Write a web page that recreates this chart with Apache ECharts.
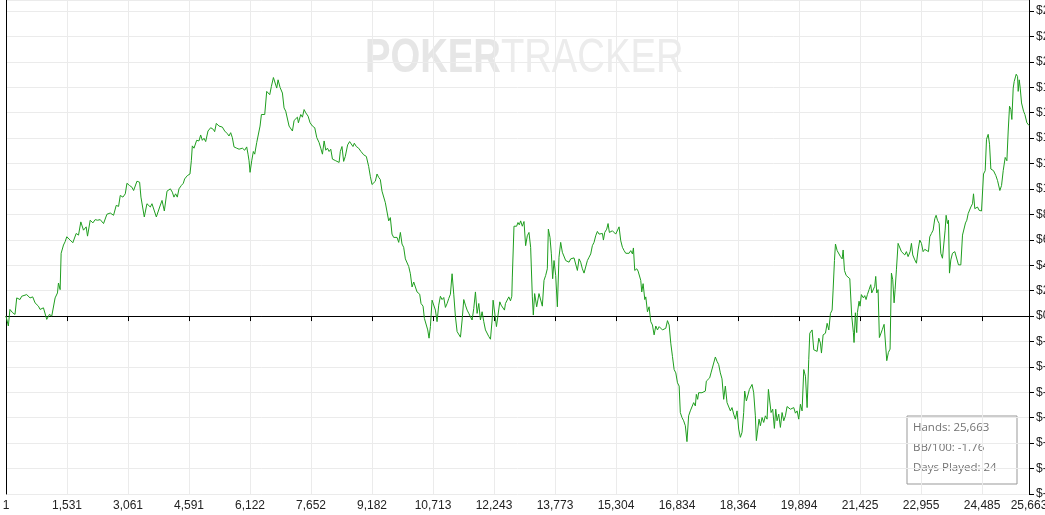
<!DOCTYPE html>
<html>
<head>
<meta charset="utf-8">
<script src="https://cdn.jsdelivr.net/npm/echarts@6/dist/echarts.min.js"></script>
<style>
html,body{margin:0;padding:0;background:#fff;}
#chart{width:1045px;height:515px;}
</style>
</head>
<body>
<div id="chart"></div>
<script>
// x tick labels (hands)
var xTickLabels = ['1','1,531','3,061','4,591','6,122','7,652','9,182','10,713','12,243','13,773','15,304','16,834','18,364','19,894','21,425','22,955','24,485','25,663'];
var handsTotal = 25663;
var handsStep = 1530.3;
var yMin = -140, yMax = 248.7, yStep = 20;

// statistics box text
var statLines = ['Hands: 25,663', 'BB/100: -1.76', 'Days Played: 24'];

// cumulative winnings: [hand number, dollars]
var winnings = [
[1,0],[60,-7.8],[100,5.2],[168,2.6],[227,1.3],[270,14.3],[352,13],[395,15.6],[520,16.9],[604,14.3],[671,15.1],[730,10.4],[814,7.8],[856,5.2],[940,6.5],[981,7.8],[1023,-2.6],[1090,1.3],[1149,0],[1191,1.3],[1233,14.3],[1292,18.2],[1317,26],[1359,20.8],[1384,49.4],[1443,55.9],[1484,58.5],[1526,62.4],[1610,59.8],[1677,57.7],[1761,65],[1820,63.7],[1878,74.1],[1945,67.6],[2012,70.2],[2046,62.9],[2113,75.4],[2180,73.3],[2238,75.9],[2297,75.4],[2364,75.9],[2448,72.8],[2532,80.1],[2616,81.1],[2699,79.3],[2766,87.1],[2825,86.3],[2867,94.9],[2934,93.6],[2993,96.2],[3035,104.5],[3101,102.7],[3160,101.4],[3202,98.8],[3286,106.1],[3353,105.3],[3386,93.6],[3470,78],[3537,88.4],[3621,85.8],[3663,88.4],[3772,78],[3856,85.8],[3915,91],[3973,82.7],[4040,98.3],[4124,100.1],
[4173,97.5],[4214,93.6],[4256,96.2],[4298,93.6],[4340,100.1],[4398,102.7],[4449,104.5],[4482,107.9],[4549,110.5],[4616,111.8],[4650,122.2],[4675,133.9],[4717,132.1],[4784,138.3],[4842,137.8],[4884,142.5],[4926,138.3],[4968,139.9],[5010,137.3],[5068,145.6],[5135,148.2],[5202,146.9],[5235,145.1],[5277,151.6],[5344,149.5],[5428,148.7],[5487,145.6],[5554,143.5],[5595,141.7],[5637,144.3],[5679,140.4],[5721,133.1],[5788,132.1],[5847,131.3],[5930,132.1],[5989,130.5],[6039,133.1],[6072,127.4],[6098,122.2],[6123,113.1],[6165,122.2],[6206,129.5],[6240,127.4],[6290,136.5],[6324,135.2],[6374,149.5],[6408,158.6],[6458,159.9],[6491,158.6],[6541,176.8],[6583,178.1],[6617,174.2],[6658,180.7],[6709,187.7],[6750,186.7],[6792,179.4],[6826,185.9],[6876,179.9],[6935,175.5],[6976,163.8],[7018,161.2],[7060,161.7],[7102,149.5],[7144,148.2],[7186,145.6],[7228,153.9],[7269,153.4],[7311,156.5],[7336,152.1],[7395,158.6],[7437,156.5],[7479,162.5],[7521,159.9],[7579,157.3],[7629,152.1],[7688,149.5],[7746,148.2],[7797,140.4],[7855,136.5],[7897,132.1],[7939,127.4],[7981,137.8],[8023,130.5],[8065,132.1],[8106,129.5],[8148,131.3],[8190,123.5],[8274,122.2],[8357,120.9],
[8387,129.5],[8429,133.4],[8471,121.7],[8512,125.6],[8571,134.7],[8621,137.3],[8663,136],[8705,133.4],[8738,136],[8789,133.4],[8847,132.1],[8906,129.5],[8973,126.9],[9040,125.6],[9098,117.8],[9140,110],[9182,103.5],[9224,104.8],[9266,106.1],[9308,111.8],[9349,109.2],[9391,107.4],[9433,98.3],[9475,98.8],[9517,89.2],[9559,89.2],[9601,74.9],[9642,77.5],[9684,64.5],[9726,61.9],[9768,60.6],[9810,61.9],[9852,58],[9894,65.8],[9935,56.7],[9977,54.1],[10019,45],[10061,43.7],[10103,39],[10145,33.3],[10187,22.9],[10229,26.8],[10270,25.5],[10312,19],[10379,17.2],[10412,9.9],[10463,7.8],[10496,-1.8],[10546,-3.1],[10580,-10.9],[10613,-17.4],[10647,-8.3],[10689,12.5],[10731,13.8],[10773,4.7],[10814,-4.4],[10856,8.6],[10898,15.6],[10940,13],[10982,14.6],[11024,6.8],[11066,9.9],[11107,13.8],[11149,17.2],[11191,33.3],[11233,17.2],[11275,-0.5],[11317,-12.2],[11359,-13.5],[11401,-16.6],[11443,-3.1],[11484,13],[11526,8.6],[11568,4.7],[11610,2.1],[11652,-0.5],[11693,-3.1],[11735,6],[11777,19],[11819,2.1],[11861,9.9],[11902,-3.1],[11944,3.4],[11986,-4.4],[12028,-10.9],[12070,-12.2],[12112,-16.1],[12154,-18.2],[12195,-3.1],[12220,12.5],[12262,12.5],[12304,-8.3],[12338,-0.5],[12388,11.2],[12421,8.6],[12471,9.9],[12505,4.7],[12530,9.9],[12572,11.2],[12614,15.1],[12656,12],[12689,15.6],
[12702,30.7],[12744,70.7],[12810,70.7],[12844,73.6],[12877,71.8],[12911,74.9],[12953,70.7],[12995,74.4],[13036,55.4],[13078,63.2],[13120,65.8],[13162,54.1],[13204,15.1],[13229,0.8],[13262,17.7],[13313,7.3],[13371,17.7],[13413,19],[13455,7.8],[13497,28.1],[13539,32],[13580,37.2],[13606,68.4],[13647,61.9],[13681,49],[13714,29.4],[13748,43.7],[13790,32],[13832,7.3],[13873,46.3],[13915,58],[13957,50.2],[13999,51.5],[14041,43.7],[14083,43.2],[14125,42.4],[14166,45],[14208,43.7],[14250,45.8],[14292,45],[14334,35.9],[14376,45],[14417,42.4],[14459,37.2],[14501,33.8],[14543,34.6],[14585,43.7],[14627,46.3],[14669,48.9],[14710,55.4],[14752,58],[14794,63.2],[14836,66.6],[14878,64.5],[14920,63.2],[14962,65],[14987,59.8],[15020,65.8],[15070,68.4],[15104,72.8],[15137,65.8],[15171,65.8],[15213,67.1],[15255,65.8],[15296,64.5],[15338,65.8],[15380,70.2],[15422,59.3],[15464,54.1],[15506,51.5],[15548,49.4],[15589,50.2],[15631,49.4],[15673,51.5],[15715,48.9],[15740,53.6],[15773,35.9],[15824,37.2],[15857,35.4],[15882,35.9],[15924,28.1],[15949,19],[15983,25.5],[16025,13],[16050,15.1],[16092,3.4],[16133,7.3],[16175,-4.4],[16217,-7],[16259,-14.8],[16301,-7.8],[16343,-10.9],[16385,-8.3],[16426,-9.6],[16468,-10.9],[16510,-10.9],[16552,-9.6],[16594,-3.6],[16636,-7],[16677,-21.3],[16719,-31.7],[16761,-42.1],[16803,-44.7],[16845,-52.5],[16887,-55.1],
[16916,-75.9],[16958,-79.8],[17000,-82.4],[17042,-86.3],[17083,-98.8],[17125,-78.5],[17167,-74.6],[17209,-75.4],[17251,-68.1],[17293,-70.7],[17318,-61.6],[17351,-65.5],[17376,-60.3],[17418,-61.6],[17460,-60.3],[17502,-59.8],[17544,-59],[17569,-51.2],[17602,-52.5],[17653,-48.6],[17686,-44.7],[17736,-43.4],[17795,-32.2],[17837,-35.6],[17879,-38.2],[17920,-44.7],[17962,-49.4],[18004,-65.5],[18046,-55.1],[18088,-68.1],[18130,-66.8],[18172,-74.6],[18213,-72],[18255,-77.2],[18297,-81.1],[18339,-74.6],[18381,-88.9],[18423,-95.4],[18464,-91.5],[18506,-75.9],[18531,-59],[18573,-66.8],[18607,-68.1],[18649,-57.7],[18690,-56.4],[18716,-53.8],[18757,-60.3],[18799,-78.5],[18824,-98],[18858,-96.7],[18891,-81.1],[18925,-86.3],[18967,-79.8],[19008,-83.7],[19050,-78.5],[19092,-81.1],[19126,-57.7],[19159,-66.8],[19193,-75.9],[19234,-73.3],[19276,-88.4],[19310,-73.3],[19343,-82.4],[19385,-77.2],[19427,-87.6],[19469,-75.9],[19511,-82.4],[19553,-78.5],[19594,-71.2],[19636,-72],[19678,-73.3],[19720,-74.6],[19762,-72],[19804,-76.4],[19846,-74.6],[19887,-81.1],[19929,-69.4],[19971,-74.6],[20013,-42.1],[20055,-47.3],[20097,-72],[20138,-34.3],[20164,-13.5],[20222,-10.9],[20264,-26.5],[20306,-27.8],[20348,-27.8],[20390,-17.4],[20431,-21.3],[20457,-29.1],[20498,-14.8],[20557,-13.5],[20599,-5.7],[20641,-10.9],[20683,2.1],[20724,4.7],[20749,20.3],[20783,43.7],[20808,56.7],[20850,51.5],[20892,50.2],[20934,46.8],[20976,45],[21001,52],[21034,35.9],[21076,32],[21118,31.2],[21168,29.4],
[21216,0],[21258,-13],[21274,-20.8],[21308,2.6],[21341,-13],[21358,2.6],[21400,11.7],[21425,7.8],[21458,16.9],[21509,14.3],[21542,16.1],[21576,13],[21609,16.9],[21651,20.8],[21693,24.7],[21718,18.2],[21760,16.9],[21793,23.4],[21818,31.2],[21844,18.2],[21877,20.8],[21910,-16.9],[21944,-16.9],[21986,-10.4],[22028,-6.5],[22061,-7.8],[22095,-35.1],[22136,-28.6],[22178,-26],[22212,33.8],[22245,28.6],[22279,10.4],[22304,20.8],[22337,36.4],[22379,57.2],[22429,58.5],[22463,50.7],[22505,49.4],[22547,48.1],[22588,50.7],[22630,46.8],[22681,50.7],[22714,57.2],[22747,48.1],[22798,44.2],[22840,41.6],[22881,52],[22923,59.8],[22965,57.2],[23007,50.7],[23049,52.5],[23099,52],[23141,50.7],[23174,62.4],[23216,65],[23258,67.6],[23300,76.7],[23333,79.3],[23367,75.4],[23409,72.8],[23451,49.4],[23492,45.5],[23534,44.2],[23559,67.6],[23584,79.3],[23618,72.8],[23643,75.4],[23668,33.8],[23702,44.2],[23743,49.4],[23802,50.7],[23852,52],[23894,40.3],[23953,40.3],[23995,63.7],[24036,65],[24070,73.3],[24103,75.4],[24137,80.6],[24170,79.3],[24204,85.8],[24246,88.4],[24271,96.2],[24304,84.5],[24338,83.2],[24371,85.8],[24413,83.2],[24472,82.7],[24522,111.8],[24564,114.4],[24597,139.1],[24639,143],[24673,135.2],[24706,115.7],[24773,114.4],[24832,110.5],[24874,106.6],[24932,98.8],[24974,102.7],[25016,114.4],[25066,124.8],[25108,122.2],[25141,145.6],[25175,165.1],[25208,162.5],[25233,154.7],[25267,179.4],[25292,184.6],[25317,185.9],[25342,190.3],[25376,188.5],[25392,176.8],[25418,185.9],[25443,179.4],[25476,167.7],[25526,161.2],[25560,158.6],[25610,152.1],[25663,150]
];

var axisFont = '"Liberation Sans", Arial, sans-serif';
var chart = echarts.init(document.getElementById('chart'), null, {renderer: 'canvas'});
var option = {
  animation: false,
  backgroundColor: '#ffffff',
  grid: {left: 6, right: 16, top: 0, bottom: 21, containLabel: false, outerBoundsMode: 'none'},
  xAxis: {
    type: 'value',
    min: 1,
    max: handsTotal,
    interval: handsStep,
    axisLine: {show: true, lineStyle: {color: '#000', width: 1}},
    axisTick: {show: true, length: 5, lineStyle: {color: '#000'}},
    axisLabel: {
      margin: 6, color: '#222', fontSize: 12, fontFamily: axisFont,
      showMinLabel: true, showMaxLabel: true, hideOverlap: false,
      formatter: function (v, i) { return xTickLabels[i] !== undefined ? xTickLabels[i] : ''; }
    },
    splitLine: {show: true, lineStyle: {color: '#ebebeb', width: 1}}
  },
  yAxis: [{
    type: 'value',
    position: 'right',
    min: yMin,
    max: yMax,
    interval: yStep,
    axisLine: {show: true, lineStyle: {color: '#000', width: 1}},
    axisTick: {show: true, length: 5, lineStyle: {color: '#000'}},
    axisLabel: {
      margin: 7, color: '#222', fontSize: 12, fontFamily: axisFont,
      showMaxLabel: false,
      formatter: function (v) { return '$' + v; }
    },
    splitLine: {show: true, lineStyle: {color: '#ebebeb', width: 1}}
  }, {
    type: 'value',
    position: 'left',
    min: yMin,
    max: yMax,
    interval: yStep,
    axisLine: {show: true, onZero: false, lineStyle: {color: '#000', width: 1}},
    axisTick: {show: false},
    axisLabel: {show: false},
    splitLine: {show: false}
  }],
  graphic: [{
    type: 'text',
    x: 365,
    y: 34,
    scaleX: 0.78,
    z: 0,
    silent: true,
    style: {
      text: '{a|POKER}{b|TRACKER}',
      rich: {
        a: {fontSize: 49, fontWeight: 'bold', fill: '#e6e6e6', fontFamily: '"Liberation Sans", Arial, sans-serif'},
        b: {fontSize: 49, fontWeight: 'normal', fill: '#ececec', fontFamily: '"Liberation Sans", Arial, sans-serif'}
      }
    }
  }, {
    type: 'group',
    x: 907,
    y: 416,
    z: 100,
    children: [{
      type: 'rect',
      shape: {x: 0, y: 0, width: 110, height: 68},
      style: {fill: '#ffffff', stroke: '#999999', lineWidth: 1}
    }, {
      type: 'text', x: 6, y: 12,
      style: {text: statLines[0], fill: '#737373', fontSize: 11.5, fontFamily: '"Open Sans", "Noto Sans", sans-serif', verticalAlign: 'middle'}
    }, {
      type: 'text', x: 6, y: 32,
      style: {text: statLines[1], fill: '#737373', fontSize: 11.5, fontFamily: '"Open Sans", "Noto Sans", sans-serif', verticalAlign: 'middle'}
    }, {
      type: 'text', x: 6, y: 52,
      style: {text: statLines[2], fill: '#737373', fontSize: 11.5, fontFamily: '"Open Sans", "Noto Sans", sans-serif', verticalAlign: 'middle'}
    }]
  }],
  series: [{
    type: 'line',
    yAxisIndex: 0,
    data: winnings,
    showSymbol: false,
    symbol: 'none',
    lineStyle: {color: '#1f9e1f', width: 1},
    z: 5,
    markLine: {
      silent: true,
      symbol: ['none', 'none'],
      label: {show: false},
      lineStyle: {color: '#000', width: 1, type: 'solid'},
      data: [{yAxis: 0}]
    }
  }]
};
chart.setOption(option);
</script>
</body>
</html>
